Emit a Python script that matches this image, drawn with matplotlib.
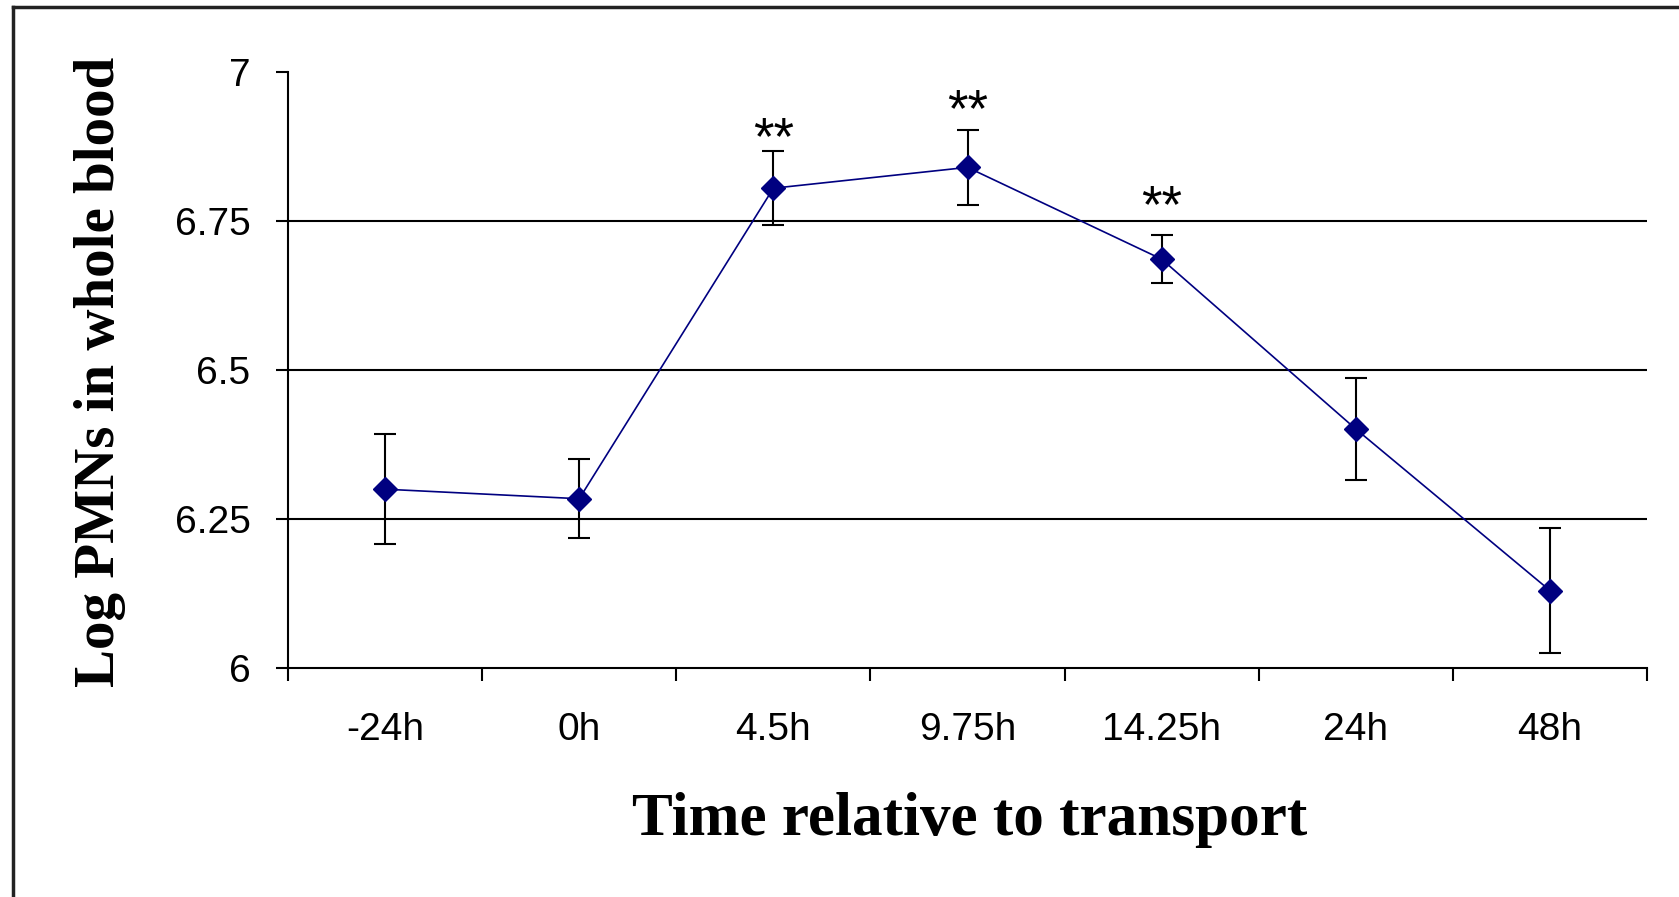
import numpy as np
import matplotlib.pyplot as plt
from matplotlib.lines import Line2D

# Log PMN counts in whole blood around transport
times = ["-24h", "0h", "4.5h", "9.75h", "14.25h", "24h", "48h"]
log_pmn = [6.300, 6.284, 6.805, 6.840, 6.686, 6.401, 6.130]
sem = [0.092, 0.066, 0.062, 0.063, 0.040, 0.085, 0.105]

# significance markers (index, height)
sig_idx = [2, 3, 4]
sig_y = [6.885, 6.932, 6.771]

yticks = [6, 6.25, 6.5, 6.75, 7]
ytick_labels = ["6", "6.25", "6.5", "6.75", "7"]

W, H = 1679, 897
fig = plt.figure(figsize=(W / 100, H / 100), dpi=100)
ax = fig.add_axes([288 / W, 1 - 668 / H, (1647 - 288) / W, (668 - 72) / H])

x = np.arange(len(times))

# horizontal gridlines, not at the axis ends
ax.hlines(yticks[1:-1], -0.5, len(times) - 0.5, colors="black", linewidth=1.5, zorder=1)

ax.errorbar(x, log_pmn, yerr=sem, fmt="none", ecolor="black", elinewidth=1.5,
            capsize=8, capthick=1.5, zorder=2)
ax.plot(x, log_pmn, color="#000080", linewidth=1.2, marker="D", markersize=12,
        markerfacecolor="#000080", markeredgecolor="#000080", zorder=3)

for i, yy in zip(sig_idx, sig_y):
    ax.text(x[i], yy, "**", ha="center", va="center", fontsize=38,
            family="Liberation Sans", color="black")

ax.set_xlim(-0.5, len(times) - 0.5)
ax.set_ylim(yticks[0], yticks[-1])

ax.set_xticks(np.arange(-0.5, len(times), 1.0))
ax.set_xticklabels([])
ax.set_xticks(x, minor=True)
ax.set_xticklabels(times, minor=True, fontsize=28, family="Liberation Sans")
ax.tick_params(axis="x", which="major", direction="out", length=9, width=1.5)
ax.tick_params(axis="x", which="minor", length=0, pad=32)

ax.set_yticks(yticks)
ax.set_yticklabels(ytick_labels, fontsize=28, family="Liberation Sans")
ax.tick_params(axis="y", direction="out", length=9, width=1.5, pad=18)

for side in ["top", "right"]:
    ax.spines[side].set_visible(False)
for side in ["left", "bottom"]:
    ax.spines[side].set_linewidth(1.5)

fig.text(970 / W, 1 - 820 / H, "Time relative to transport", ha="center", va="center",
         fontsize=44, fontweight="bold", family="Liberation Serif")
fig.text(100 / W, 1 - 372 / H, "Log PMNs in whole blood", ha="center", va="center",
         rotation=90, fontsize=41, fontweight="bold", family="Liberation Serif")

# outer frame edges
fig.add_artist(Line2D([13 / W, 13 / W], [0, 1 - 7 / H], color="#222222", linewidth=2.5,
                      transform=fig.transFigure))
fig.add_artist(Line2D([13 / W, 1], [1 - 7 / H, 1 - 7 / H], color="#222222", linewidth=2.5,
                      transform=fig.transFigure))

fig.savefig("out.png", dpi=100, facecolor="white")
